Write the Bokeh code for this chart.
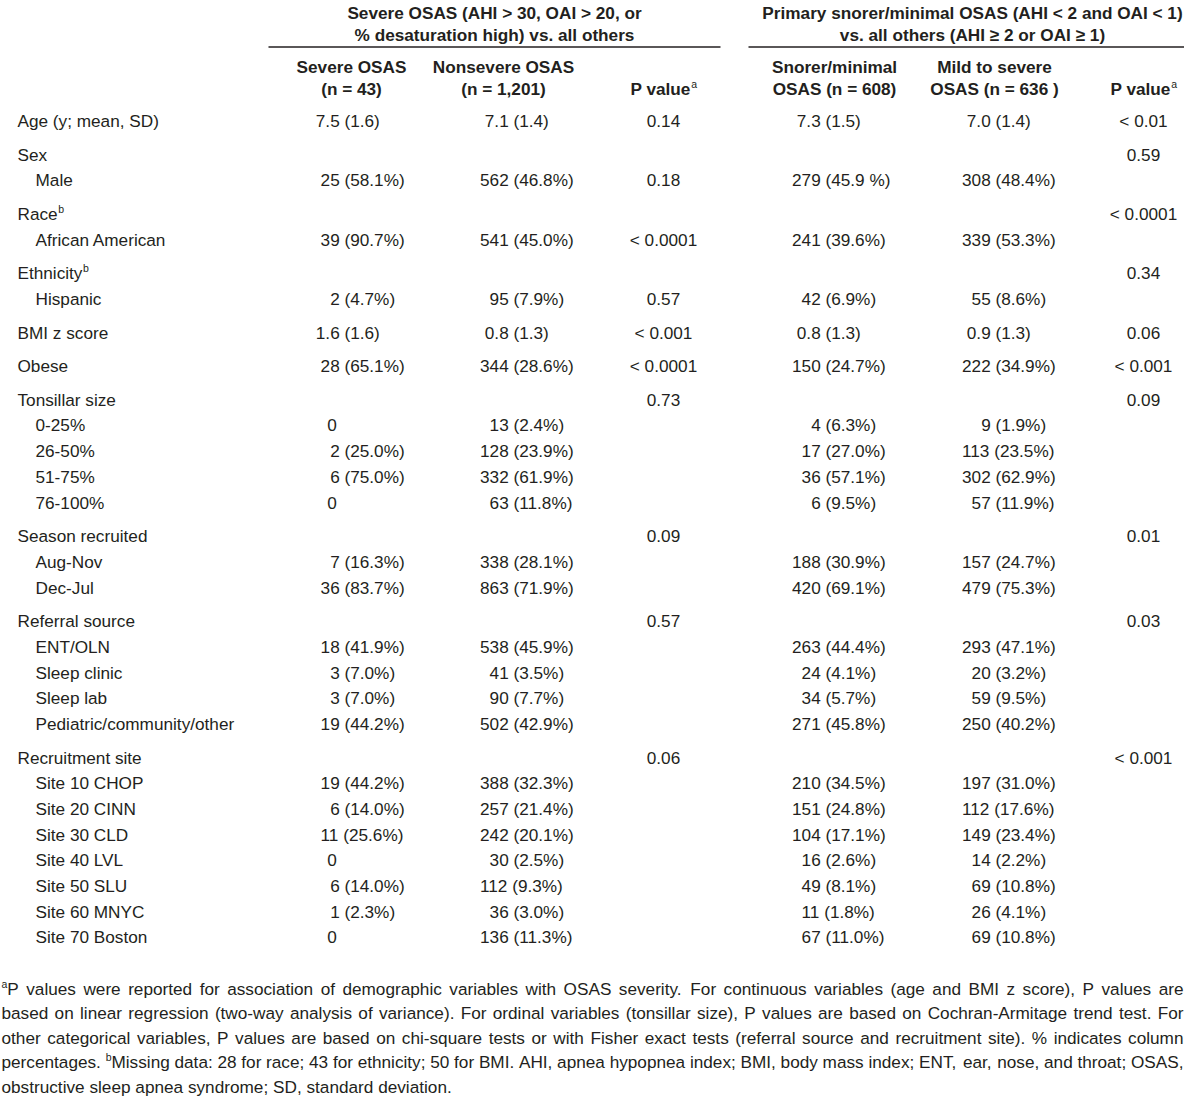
from bokeh.plotting import figure
from bokeh.models import Range1d, ColumnDataSource
from bokeh.core.properties import value
from bokeh.embed import file_html
from bokeh.resources import INLINE

# ---------------- data ----------------
row_labels = ["Age (y; mean, SD)", "Sex", "Male", "Race", "African American",
              "Ethnicity", "Hispanic", "BMI z score", "Obese", "Tonsillar size",
              "0-25%", "26-50%", "51-75%", "76-100%", "Season recruited",
              "Aug-Nov", "Dec-Jul", "Referral source", "ENT/OLN", "Sleep clinic",
              "Sleep lab", "Pediatric/community/other", "Recruitment site",
              "Site 10 CHOP", "Site 20 CINN", "Site 30 CLD", "Site 40 LVL",
              "Site 50 SLU", "Site 60 MNYC", "Site 70 Boston"]
row_indent = [0, 0, 1, 0, 1, 0, 1, 0, 0, 0, 1, 1, 1, 1, 0, 1, 1, 0, 1, 1, 1, 1,
              0, 1, 1, 1, 1, 1, 1, 1]
label_marks = ["", "", "", "b", "", "b", "", "", "", "", "", "", "", "", "", "",
               "", "", "", "", "", "", "", "", "", "", "", "", "", ""]

severe = ["7.5 (1.6)", "", "25 (58.1%)", "", "39 (90.7%)", "", "2 (4.7%)",
          "1.6 (1.6)", "28 (65.1%)", "", "0", "2 (25.0%)", "6 (75.0%)", "0", "",
          "7 (16.3%)", "36 (83.7%)", "", "18 (41.9%)", "3 (7.0%)", "3 (7.0%)",
          "19 (44.2%)", "", "19 (44.2%)", "6 (14.0%)", "11 (25.6%)", "0",
          "6 (14.0%)", "1 (2.3%)", "0"]
nonsevere = ["7.1 (1.4)", "", "562 (46.8%)", "", "541 (45.0%)", "", "95 (7.9%)",
             "0.8 (1.3)", "344 (28.6%)", "", "13 (2.4%)", "128 (23.9%)",
             "332 (61.9%)", "63 (11.8%)", "", "338 (28.1%)", "863 (71.9%)", "",
             "538 (45.9%)", "41 (3.5%)", "90 (7.7%)", "502 (42.9%)", "",
             "388 (32.3%)", "257 (21.4%)", "242 (20.1%)", "30 (2.5%)",
             "112 (9.3%)", "36 (3.0%)", "136 (11.3%)"]
p_severe = ["0.14", "", "0.18", "", "< 0.0001", "", "0.57", "< 0.001", "< 0.0001",
            "0.73", "", "", "", "", "0.09", "", "", "0.57", "", "", "", "", "0.06",
            "", "", "", "", "", "", ""]
snorer = ["7.3 (1.5)", "", "279 (45.9 %)", "", "241 (39.6%)", "", "42 (6.9%)",
          "0.8 (1.3)", "150 (24.7%)", "", "4 (6.3%)", "17 (27.0%)", "36 (57.1%)",
          "6 (9.5%)", "", "188 (30.9%)", "420 (69.1%)", "", "263 (44.4%)",
          "24 (4.1%)", "34 (5.7%)", "271 (45.8%)", "", "210 (34.5%)",
          "151 (24.8%)", "104 (17.1%)", "16 (2.6%)", "49 (8.1%)", "11 (1.8%)",
          "67 (11.0%)"]
mild = ["7.0 (1.4)", "", "308 (48.4%)", "", "339 (53.3%)", "", "55 (8.6%)",
        "0.9 (1.3)", "222 (34.9%)", "", "9 (1.9%)", "113 (23.5%)", "302 (62.9%)",
        "57 (11.9%)", "", "157 (24.7%)", "479 (75.3%)", "", "293 (47.1%)",
        "20 (3.2%)", "59 (9.5%)", "250 (40.2%)", "", "197 (31.0%)", "112 (17.6%)",
        "149 (23.4%)", "14 (2.2%)", "69 (10.8%)", "26 (4.1%)", "69 (10.8%)"]
p_snorer = ["< 0.01", "0.59", "", "< 0.0001", "", "0.34", "", "0.06", "< 0.001",
            "0.09", "", "", "", "", "0.01", "", "", "0.03", "", "", "", "", "< 0.001",
            "", "", "", "", "", "", ""]

group_titles = [["Severe OSAS (AHI > 30, OAI > 20, or",
                 "% desaturation high) vs. all others"],
                ["Primary snorer/minimal OSAS (AHI < 2 and OAI < 1)",
                 "vs. all others (AHI \u2265 2 or OAI \u2265 1)"]]
column_titles = [["Severe OSAS", "(n = 43)"], ["Nonsevere OSAS", "(n = 1,201)"],
                 ["", "P value"], ["Snorer/minimal", "OSAS (n = 608)"],
                 ["Mild to severe", "OSAS (n = 636 )"], ["", "P value"]]
column_marks = ["", "", "a", "", "", "a"]

footnote_lines = [
    "^aP values were reported for association of demographic variables with OSAS severity. For continuous variables (age and BMI z score), P values are",
    "based on linear regression (two-way analysis of variance). For ordinal variables (tonsillar size), P values are based on Cochran-Armitage trend test. For",
    "other categorical variables, P values are based on chi-square tests or with Fisher exact tests (referral source and recruitment site). % indicates column",
    "percentages. ^bMissing data: 28 for race; 43 for ethnicity; 50 for BMI. AHI, apnea hypopnea index; BMI, body mass index; ENT, ear, nose, and throat; OSAS,",
    "obstructive sleep apnea syndrome; SD, standard deviation.",
]

# ---------------- style / layout ----------------
FONT = "Liberation Sans"
INK = "#231f20"
FS = 17.2
SUP = 10.5

AW = {' ': 278, '!': 278, '%': 889, '(': 333, ')': 333, ',': 278, '-': 333, '.': 278,
      '/': 278, ':': 278, ';': 278, '<': 584, '=': 584, '>': 584, '\u2265': 549}
for c in "0123456789":
    AW[c] = 556
AW.update(dict(zip("ABCDEFGHIJKLMNOPQRSTUVWXYZ",
                   [667, 667, 722, 722, 667, 611, 778, 722, 278, 500, 667, 556, 833,
                    722, 778, 667, 778, 722, 667, 611, 722, 667, 944, 667, 667, 611])))
AW.update(dict(zip("abcdefghijklmnopqrstuvwxyz",
                   [556, 556, 500, 556, 556, 278, 556, 556, 222, 222, 500, 222, 833,
                    556, 556, 556, 556, 333, 500, 278, 556, 500, 722, 500, 500, 500])))
BW = dict(AW)
BW.update({'a': 556, 'e': 556, 'l': 278, 'u': 611, 'v': 556, 'P': 667})


def tw(s, size=FS, bold=False):
    t = BW if bold else AW
    return sum(t.get(c, 556) for c in s) / 1000.0 * size


W, H = 1184, 1097
X_LABEL, X_INDENT = 17, 35
COL_CENTERS = [351, 503, 663, 834, 994, 1143]
ANCHORS = {0: 344, 1: 513, 3: 825, 4: 995}
GROUP_CENTERS = [494, 972]
GROUP_RULES = [(268, 720), (748, W)]
Y_GROUP = [12, 34]
Y_RULE = 46.5
Y_COLHEAD = [66.5, 88.5]
Y_FIRST = 120.5
STEP, GROUP_STEP = 25.7, 33.6
FOOT_Y0, FOOT_STEP = 988, 24.5
FOOT_X0, FOOT_X1 = 1, 1183

p = figure(width=W, height=H, x_range=Range1d(0, W), y_range=Range1d(H, 0),
           output_backend="svg", toolbar_location=None, min_border=0,
           x_axis_location=None, y_axis_location=None)
p.grid.visible = False
p.outline_line_color = None
p.background_fill_color = "white"


def draw(xs, ys, texts, align="left", size=FS, bold=False):
    if not texts:
        return
    src = ColumnDataSource(dict(x=list(xs), y=list(ys), t=list(texts)))
    p.text(x="x", y="y", text="t", source=src, text_font=value(FONT),
           text_font_size=value(f"{size}px"), text_align=align,
           text_baseline="middle", text_color=INK,
           text_font_style="bold" if bold else "normal")


# group headers and rules
gx, gy, gt = [], [], []
for cx, lines in zip(GROUP_CENTERS, group_titles):
    for yy, line in zip(Y_GROUP, lines):
        gx.append(cx); gy.append(yy); gt.append(line)
draw(gx, gy, gt, align="center", bold=True)
p.segment(x0=[a for a, b in GROUP_RULES], x1=[b for a, b in GROUP_RULES],
          y0=[Y_RULE] * 2, y1=[Y_RULE] * 2, line_color=INK, line_width=1.4)

# column headers
cx_, cy_, ct_ = [], [], []
rx, ry, rt = [], [], []
sx, sy, st = [], [], []
for cx, lines, mark in zip(COL_CENTERS, column_titles, column_marks):
    for yy, line in zip(Y_COLHEAD, lines):
        if not line:
            continue
        if mark and yy == Y_COLHEAD[1]:
            w = tw(line, bold=True) + tw(mark, SUP)
            xr = cx - w / 2 + tw(line, bold=True)
            rx.append(xr); ry.append(yy); rt.append(line)
            sx.append(xr + 0.5); sy.append(yy - 5); st.append(mark)
        else:
            cx_.append(cx); cy_.append(yy); ct_.append(line)
draw(cx_, cy_, ct_, align="center", bold=True)
draw(rx, ry, rt, align="right", bold=True)
draw(sx, sy, st, size=SUP)

# rows
row_y = []
y = Y_FIRST
for i, ind in enumerate(row_indent):
    if i > 0:
        y += STEP if ind else GROUP_STEP
    row_y.append(y)

lx, ly, lt = [], [], []
mx, my, mt = [], [], []
for lab, ind, mk, yy in zip(row_labels, row_indent, label_marks, row_y):
    x0 = X_INDENT if ind else X_LABEL
    lx.append(x0); ly.append(yy); lt.append(lab)
    if mk:
        mx.append(x0 + tw(lab) + 0.5); my.append(yy - 5); mt.append(mk)
draw(lx, ly, lt)
draw(mx, my, mt, size=SUP)

vx, vy, vt = [], [], []
px, py, pt = [], [], []
for ci, col in enumerate([severe, nonsevere, p_severe, snorer, mild, p_snorer]):
    for v, yy in zip(col, row_y):
        if not v:
            continue
        if ci in ANCHORS:
            a = ANCHORS[ci]
            if "(" in v:
                xl = a - tw(v[:v.index("(")])
            else:
                xl = a - tw(v + " ") - 3
            vx.append(xl); vy.append(yy); vt.append(v)
        else:
            px.append(COL_CENTERS[ci]); py.append(yy); pt.append(v)
draw(vx, vy, vt)
draw(px, py, pt, align="center")

# footnote, justified like the original
fx, fy, ft = [], [], []
fsx, fsy, fst = [], [], []
for li, line in enumerate(footnote_lines):
    yy = FOOT_Y0 + li * FOOT_STEP
    parts = []
    for w in line.split(" "):
        if w.startswith("^"):
            parts.append((w[1], w[2:]))
        else:
            parts.append(("", w))
    widths = [tw(s, SUP) + tw(r) for s, r in parts]
    last = li == len(footnote_lines) - 1
    if last or len(parts) < 2:
        gap = tw(" ")
    else:
        gap = (FOOT_X1 - FOOT_X0 - sum(widths)) / (len(parts) - 1)
    x = FOOT_X0
    for (s, r), w in zip(parts, widths):
        if s:
            fsx.append(x); fsy.append(yy - 5); fst.append(s)
            fx.append(x + tw(s, SUP)); fy.append(yy); ft.append(r)
        else:
            fx.append(x); fy.append(yy); ft.append(r)
        x += w + gap
draw(fx, fy, ft)
draw(fsx, fsy, fst, size=SUP)

open("out.html", "w").write(file_html(p, INLINE))
